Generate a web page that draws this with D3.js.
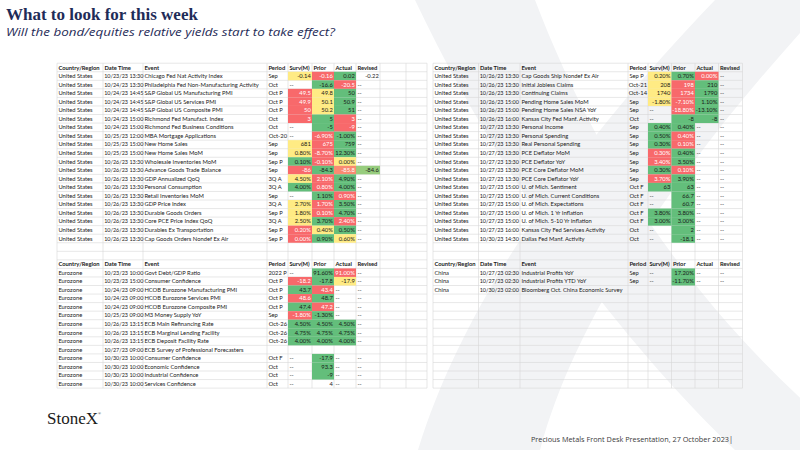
<!DOCTYPE html>
<html><head><meta charset="utf-8">
<script src="https://cdn.jsdelivr.net/npm/d3@7"></script>
<style>html,body{margin:0;padding:0;background:#fff;} svg{display:block}</style>
</head><body>
<svg id="c" width="800" height="450"></svg>
<script>
// ---------------- DATA ----------------
const titleText = "What to look for this week";
const subtitleText = "Will the bond/equities relative yields start to take effect?";
const footerText = "Precious Metals Front Desk Presentation, 27 October 2023|";
const logoText = "StoneX";
const headers = ["Country/Region","Date Time","Event","Period","Surv(M)","Prior","Actual","Revised"];

// United States (left block)
const usLeftDates = ["10/23/23 13:30","10/24/23 13:30","10/24/23 14:45","10/24/23 14:45","10/24/23 14:45","10/24/23 15:00","10/24/23 15:00","10/25/23 12:00","10/25/23 15:00","10/25/23 15:00","10/26/23 13:30","10/26/23 13:30","10/26/23 13:30","10/26/23 13:30","10/26/23 13:30","10/26/23 13:30","10/26/23 13:30","10/26/23 13:30","10/26/23 13:30","10/26/23 13:30"];
const usLeftEvents = ["Chicago Fed Nat Activity Index","Philadelphia Fed Non-Manufacturing Activity","S&P Global US Manufacturing PMI","S&P Global US Services PMI","S&P Global US Composite PMI","Richmond Fed Manufact. Index","Richmond Fed Business Conditions","MBA Mortgage Applications","New Home Sales","New Home Sales MoM","Wholesale Inventories MoM","Advance Goods Trade Balance","GDP Annualized QoQ","Personal Consumption","Retail Inventories MoM","GDP Price Index","Durable Goods Orders","Core PCE Price Index QoQ","Durables Ex Transportation","Cap Goods Orders Nondef Ex Air"];
const usLeftPeriods = ["Sep","Oct","Oct P","Oct P","Oct P","Oct","Oct","Oct-20","Sep","Sep","Sep P","Sep","3Q A","3Q A","Sep","3Q A","Sep P","3Q A","Sep P","Sep P"];
const usLeftSurv = ["-0.14","--","49.5","49.9","50","3","--","--","681","0.80%","0.10%","-86","4.50%","4.00%","--","2.70%","1.80%","2.50%","0.20%","0.00%"];
const usLeftPrior = ["-0.16","-16.6","49.8","50.1","50.2","5","-5","-6.90%","675","-8.70%","-0.10%","-84.3","2.10%","0.80%","1.10%","1.70%","0.10%","3.70%","0.40%","0.90%"];
const usLeftActual = ["0.02","-20.5","50","50.9","51","3","-9","-1.00%","759","12.30%","0.00%","-85.8","4.90%","4.00%","0.90%","3.50%","4.70%","2.40%","0.50%","0.60%"];
const usLeftRevised = ["-0.22","--","--","--","--","--","--","--","--","--","--","-84.6","--","--","--","--","--","--","--","--"];

// United States (right block)
const usRightDates = ["10/26/23 13:30","10/26/23 13:30","10/26/23 13:30","10/26/23 15:00","10/26/23 15:00","10/26/23 16:00","10/27/23 13:30","10/27/23 13:30","10/27/23 13:30","10/27/23 13:30","10/27/23 13:30","10/27/23 13:30","10/27/23 13:30","10/27/23 15:00","10/27/23 15:00","10/27/23 15:00","10/27/23 15:00","10/27/23 15:00","10/27/23 16:00","10/30/23 14:30"];
const usRightEvents = ["Cap Goods Ship Nondef Ex Air","Initial Jobless Claims","Continuing Claims","Pending Home Sales MoM","Pending Home Sales NSA YoY","Kansas City Fed Manf. Activity","Personal Income","Personal Spending","Real Personal Spending","PCE Deflator MoM","PCE Deflator YoY","PCE Core Deflator MoM","PCE Core Deflator YoY","U. of Mich. Sentiment","U. of Mich. Current Conditions","U. of Mich. Expectations","U. of Mich. 1 Yr Inflation","U. of Mich. 5-10 Yr Inflation","Kansas City Fed Services Activity","Dallas Fed Manf. Activity"];
const usRightPeriods = ["Sep P","Oct-21","Oct-14","Sep","Sep","Oct","Sep","Sep","Sep","Sep","Sep","Sep","Sep","Oct F","Oct F","Oct F","Oct F","Oct F","Oct","Oct"];
const usRightSurv = ["0.20%","208","1740","-1.80%","--","--","0.40%","0.50%","0.30%","0.30%","3.40%","0.30%","3.70%","63","--","--","3.80%","3.00%","--","--"];
const usRightPrior = ["0.70%","198","1734","-7.10%","-18.80%","-8","0.40%","0.40%","0.10%","0.40%","3.50%","0.10%","3.90%","63","66.7","60.7","3.80%","3.00%","2","-18.1"];
const usRightActual = ["0.00%","210","1790","1.10%","-13.10%","-8","--","--","--","--","--","--","--","--","--","--","--","--","--","--"];
const usRightRevised = ["--","--","--","--","--","--","--","--","--","--","--","--","--","--","--","--","--","--","--","--"];

// Eurozone
const euDates = ["10/23/23 10:00","10/23/23 15:00","10/24/23 09:00","10/24/23 09:00","10/24/23 09:00","10/25/23 09:00","10/26/23 13:15","10/26/23 13:15","10/26/23 13:15","10/27/23 09:00","10/30/23 10:00","10/30/23 10:00","10/30/23 10:00","10/30/23 10:00"];
const euEvents = ["Govt Debt/GDP Ratio","Consumer Confidence","HCOB Eurozone Manufacturing PMI","HCOB Eurozone Services PMI","HCOB Eurozone Composite PMI","M3 Money Supply YoY","ECB Main Refinancing Rate","ECB Marginal Lending Facility","ECB Deposit Facility Rate","ECB Survey of Professional Forecasters","Consumer Confidence","Economic Confidence","Industrial Confidence","Services Confidence"];
const euPeriods = ["2022 P","Oct P","Oct P","Oct P","Oct P","Sep","Oct-26","Oct-26","Oct-26","","Oct F","Oct","Oct","Oct"];
const euSurv = ["--","-18.2","43.7","48.6","47.4","-1.80%","4.50%","4.75%","4.00%","","--","--","--","--"];
const euPrior = ["91.60%","-17.8","43.4","48.7","47.2","-1.30%","4.50%","4.75%","4.00%","","-17.9","93.3","-9","4"];
const euActual = ["91.00%","-17.9","--","--","--","--","4.50%","4.75%","4.00%","","--","--","--","--"];
const euRevised = ["--","--","--","--","--","--","--","--","--","","--","--","--","--"];

// China
const cnDates = ["10/27/23 02:30","10/27/23 02:30","10/30/23 02:00"];
const cnEvents = ["Industrial Profits YoY","Industrial Profits YTD YoY","Bloomberg Oct. China Economic Survey"];
const cnPeriods = ["Sep","Sep",""];
const cnSurv = ["--","--",""];
const cnPrior = ["17.20%","-11.70%",""];
const cnActual = ["--","--",""];
const cnRevised = ["--","--",""];

// conditional-format (colour scale) exceptions in the source sheet
const cfIncludesRevised = ["Advance Goods Trade Balance"];
const cfExcluded = ["Services Confidence"];

// ---------------- LAYOUT ----------------
const W = 800, H = 450;
const svg = d3.select("#c").attr("viewBox", `0 0 ${W} ${H}`);
const TOTAL_ROWS = 38;
const y = d3.scaleLinear().domain([0, TOTAL_ROWS]).range([63.2, 388.1]);
const leftEdges = [57, 103, 143, 267, 288, 312, 334, 356, 380, 406, 427];
const rightEdges = [433, 478.5, 520, 628, 648, 671.5, 695, 718.5, 742.5];
const colLeft = d3.scaleOrdinal().domain(d3.range(leftEdges.length)).range(leftEdges);
const colRight = d3.scaleOrdinal().domain(d3.range(rightEdges.length)).range(rightEdges);

const RED = "#F8696B", YEL = "#FFEB84", GRN = "#63BE7B";
const cellFont = "Lato, 'Liberation Sans', sans-serif";
const FS = 5.8, FS_DATE = 5.45;

// watermark X
const wm = svg.append("g").attr("fill", "#f2f3f5");
wm.append("path").attr("d", "M415,0 L535,0 C600,170 700,320 860,450 L735,450 C620,340 500,180 415,0 Z");
wm.append("path").attr("d", "M715,0 L830,0 C700,140 580,300 540,450 L418,450 C470,280 600,120 715,0 Z");

// title
svg.append("text").attr("x", 6).attr("y", 19.5)
  .attr("font-family", "'Liberation Serif', 'DejaVu Serif', serif").attr("font-weight", "bold")
  .attr("font-size", 17).attr("fill", "#1f2c58").text(titleText);
svg.append("text").attr("x", 6).attr("y", 35.5)
  .attr("font-family", "'Open Sans', sans-serif").attr("font-style", "italic")
  .attr("font-size", 11).attr("textLength", 329).attr("lengthAdjust", "spacingAndGlyphs")
  .attr("fill", "#1f2c58").text(subtitleText);

// grids
function drawGrid(edges) {
  const g = svg.append("g").attr("stroke", "#d6d6d6").attr("stroke-width", 0.6);
  g.selectAll("line.h").data(d3.range(TOTAL_ROWS + 1)).join("line")
    .attr("x1", edges[0]).attr("x2", edges[edges.length - 1])
    .attr("y1", d => y(d)).attr("y2", d => y(d));
  g.selectAll("line.v").data(edges).join("line")
    .attr("x1", d => d).attr("x2", d => d).attr("y1", y(0)).attr("y2", y(TOTAL_ROWS));
}
drawGrid(leftEdges);
drawGrid(rightEdges);

// tables
const tables = [
  {col: colLeft, start: 0, country: "United States", dates: usLeftDates, events: usLeftEvents, periods: usLeftPeriods, vals: [usLeftSurv, usLeftPrior, usLeftActual, usLeftRevised]},
  {col: colRight, start: 0, country: "United States", dates: usRightDates, events: usRightEvents, periods: usRightPeriods, vals: [usRightSurv, usRightPrior, usRightActual, usRightRevised]},
  {col: colLeft, start: 23, country: "Eurozone", dates: euDates, events: euEvents, periods: euPeriods, vals: [euSurv, euPrior, euActual, euRevised]},
  {col: colRight, start: 23, country: "China", dates: cnDates, events: cnEvents, periods: cnPeriods, vals: [cnSurv, cnPrior, cnActual, cnRevised]},
];

const isNum = s => /^-?\d+(\.\d+)?%?$/.test(s);
const num = s => parseFloat(s);

function cfColours(values) {
  const nums = values.filter(v => v != null);
  const mn = d3.min(nums), mx = d3.max(nums), md = d3.median(nums);
  const sc = d3.scaleLinear().domain([mn, md, mx]).range([RED, YEL, GRN]).interpolate(d3.interpolateRgb);
  return values.map(v => {
    if (v == null) return null;
    if (mx === mn || v >= mx) return {fill: GRN, text: "#1a1a1a"};
    if (v <= mn) return {fill: RED, text: "#ffffff"};
    const closeToRed = v < md && (v - mn) / (md - mn) < 0.5;
    return {fill: sc(v), text: closeToRed ? "#ffffff" : "#1a1a1a"};
  });
}

const cellG = svg.append("g");
const textG = svg.append("g").attr("font-family", cellFont).attr("font-size", FS).attr("fill", "#1a1a1a");

tables.forEach(t => {
  const col = t.col;
  headers.forEach((h, k) => {
    textG.append("text").attr("x", col(k) + 1.4).attr("y", y(t.start) + 6.3)
      .attr("font-weight", "bold").text(h);
  });
  t.events.forEach((ev, i) => {
    const r = t.start + 1 + i;
    const ty = y(r) + 6.3;
    textG.append("text").attr("x", col(0) + 1.4).attr("y", ty).text(t.country);
    textG.append("text").attr("x", col(1) + 1.2).attr("y", ty).attr("font-size", FS_DATE).text(t.dates[i]);
    textG.append("text").attr("x", col(2) + 1.4).attr("y", ty).text(ev);
    const p = t.periods[i];
    const pIsDate = /^[A-Z][a-z]{2}-\d+$/.test(p);
    textG.append("text").attr("x", pIsDate ? col(4) - 1 : col(3) + 1.4).attr("y", ty)
      .attr("text-anchor", pIsDate ? "end" : "start").text(p);
    const nCf = cfExcluded.includes(ev) ? 0 : (cfIncludesRevised.includes(ev) ? 4 : 3);
    const raw = t.vals.map(a => a[i]);
    const cfVals = raw.map((s, k) => (k < nCf && isNum(s)) ? num(s) : null);
    const cols = cfColours(cfVals);
    raw.forEach((s, k) => {
      const c = 4 + k;
      const x0 = col(c), x1 = col(c + 1);
      let tcol = "#1a1a1a";
      if (cols[k]) {
        cellG.append("rect").attr("x", x0).attr("y", y(r)).attr("width", x1 - x0)
          .attr("height", y(r + 1) - y(r)).attr("fill", cols[k].fill);
        tcol = cols[k].text;
      }
      if (!s) return;
      const numeric = isNum(s);
      textG.append("text").attr("x", numeric ? x1 - 1.2 : x0 + 1.4).attr("y", ty)
        .attr("text-anchor", numeric ? "end" : "start").attr("fill", tcol).text(s);
    });
  });
});

// footer
svg.append("text").attr("x", 47).attr("y", 424)
  .attr("font-family", "'Liberation Serif', serif").attr("font-size", 17).attr("fill", "#1a1a1a")
  .text(logoText)
  .append("tspan").attr("font-size", 4).attr("dy", -9).text("®");
svg.append("text").attr("x", 733).attr("y", 442).attr("text-anchor", "end")
  .attr("font-family", "'Open Sans', sans-serif").attr("font-size", 7.3).attr("fill", "#3a3a3a")
  .text(footerText);
</script>
</body></html>
